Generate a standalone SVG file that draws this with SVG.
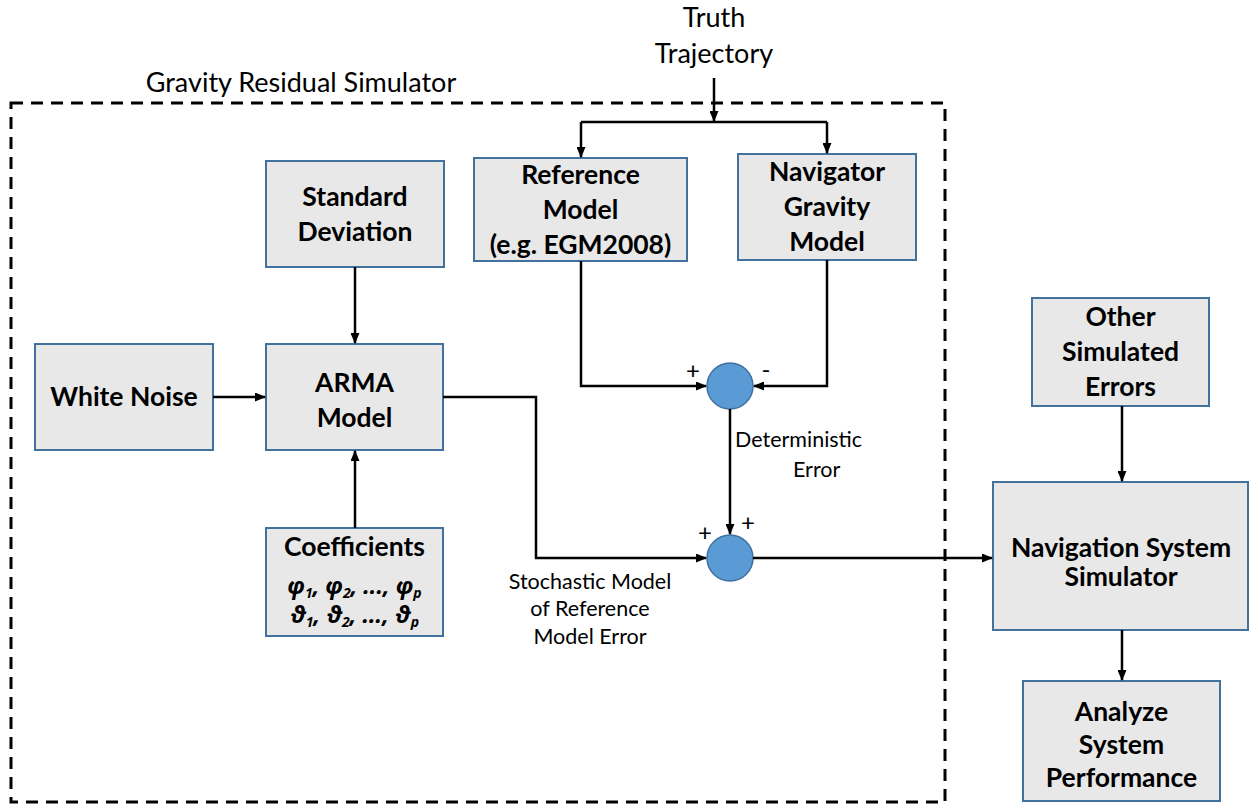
<svg xmlns="http://www.w3.org/2000/svg" width="1249" height="806" viewBox="0 0 1249 806">
  <style>
    .box { fill: #E8E8E8; stroke: #41719C; stroke-width: 2; }
    .sum { fill: #5B9BD5; stroke: #41719C; stroke-width: 1.5; }
    .wire { fill: none; stroke: #000; stroke-width: 2.5; }
    .arrow { fill: none; stroke: #000; stroke-width: 2.5; marker-end: url(#head); }
    .frame { fill: none; stroke: #000; stroke-width: 3; stroke-dasharray: 12 8; }
    .bold { font-family: Lato, "Noto Sans", "DejaVu Sans", sans-serif; font-weight: bold; font-size: 26.5px; fill: #000; text-anchor: middle; }
    .greek { font-family: "Noto Sans", "DejaVu Sans", sans-serif; font-weight: bold; font-style: italic; font-size: 23px; fill: #000; text-anchor: middle; }
    .label { font-family: Lato, "Noto Sans", sans-serif; font-size: 27px; fill: #000; }
    .small { font-family: Lato, "Noto Sans", sans-serif; font-size: 21.5px; fill: #000; }
    .sign { font-family: Lato, "Noto Sans", sans-serif; font-size: 24px; fill: #000; text-anchor: middle; }
  </style>
  <defs>
    <marker id="head" markerWidth="11" markerHeight="9" refX="10" refY="4.5" orient="auto" markerUnits="userSpaceOnUse">
      <path d="M0,0 L11,4.5 L0,9 Z" fill="#000"/>
    </marker>
  </defs>

  <!-- simulator boundary -->
  <g id="simulator-frame">
    <rect class="frame" x="11" y="103" width="934" height="699"/>
    <text class="label" x="301" y="92" text-anchor="middle">Gravity Residual Simulator</text>
  </g>

  <!-- trajectory source label -->
  <g id="truth-trajectory">
    <text class="label" x="714" y="27" text-anchor="middle">Truth</text>
    <text class="label" x="714" y="63" text-anchor="middle">Trajectory</text>
  </g>

  <!-- blocks -->
  <g id="white-noise">
    <rect class="box" x="35" y="344" width="178" height="106"/>
    <text class="bold" x="124" y="406">White Noise</text>
  </g>
  <g id="arma-model">
    <rect class="box" x="266" y="344" width="177" height="106"/>
    <text class="bold" x="354.5" y="392">ARMA</text>
    <text class="bold" x="354.5" y="427">Model</text>
  </g>
  <g id="standard-deviation">
    <rect class="box" x="266" y="161" width="178" height="106"/>
    <text class="bold" x="355" y="206">Standard</text>
    <text class="bold" x="355" y="241">Deviation</text>
  </g>
  <g id="coefficients">
    <rect class="box" x="266" y="528" width="177" height="108"/>
    <text class="bold" x="354.5" y="556">Coefficients</text>
    <text class="greek" x="354.5" y="594">φ<tspan font-size="14" baseline-shift="-4">1</tspan>, φ<tspan font-size="14" baseline-shift="-4">2</tspan>, ..., φ<tspan font-size="14" baseline-shift="-4">p</tspan></text>
    <text class="greek" x="354.5" y="623">ϑ<tspan font-size="14" baseline-shift="-4">1</tspan>, ϑ<tspan font-size="14" baseline-shift="-4">2</tspan>, ..., ϑ<tspan font-size="14" baseline-shift="-4">p</tspan></text>
  </g>
  <g id="reference-model">
    <rect class="box" x="474" y="158" width="213" height="103"/>
    <text class="bold" x="580.5" y="184">Reference</text>
    <text class="bold" x="580.5" y="219">Model</text>
    <text class="bold" x="580.5" y="254">(e.g. EGM2008)</text>
  </g>
  <g id="navigator-gravity-model">
    <rect class="box" x="738" y="154" width="178" height="106"/>
    <text class="bold" x="827" y="181">Navigator</text>
    <text class="bold" x="827" y="216">Gravity</text>
    <text class="bold" x="827" y="251">Model</text>
  </g>
  <g id="other-simulated-errors">
    <rect class="box" x="1032" y="298" width="177" height="108"/>
    <text class="bold" x="1120.5" y="326">Other</text>
    <text class="bold" x="1120.5" y="361">Simulated</text>
    <text class="bold" x="1120.5" y="396">Errors</text>
  </g>
  <g id="navigation-system-simulator">
    <rect class="box" x="993" y="482" width="255" height="148"/>
    <text class="bold" x="1121" y="557">Navigation System</text>
    <text class="bold" x="1121" y="586">Simulator</text>
  </g>
  <g id="analyze-system-performance">
    <rect class="box" x="1023" y="681" width="197" height="120"/>
    <text class="bold" x="1121.5" y="721">Analyze</text>
    <text class="bold" x="1121.5" y="754">System</text>
    <text class="bold" x="1121.5" y="787">Performance</text>
  </g>

  <!-- summing junctions -->
  <g id="sum-deterministic">
    <circle class="sum" cx="730" cy="386" r="23"/>
  </g>
  <g id="sum-total">
    <circle class="sum" cx="730" cy="558" r="23"/>
  </g>

  <!-- connectors -->
  <g id="connectors">
    <path class="arrow" d="M714,78 V121"/>
    <path class="wire" d="M581,122 H827"/>
    <path class="arrow" d="M581,122 V157"/>
    <path class="arrow" d="M827,122 V153"/>
    <path class="arrow" d="M355,267 V343"/>
    <path class="arrow" d="M213,397 H265"/>
    <path class="arrow" d="M355,528 V451"/>
    <path class="arrow" d="M581,261 V386 H706"/>
    <path class="arrow" d="M827,260 V386 H754"/>
    <path class="arrow" d="M730,409 V534"/>
    <path class="arrow" d="M443,397 H536 V558 H706"/>
    <path class="arrow" d="M753,558 H992"/>
    <path class="arrow" d="M1122,406 V481"/>
    <path class="arrow" d="M1122,630 V680"/>
  </g>

  <!-- connector labels and signs -->
  <g id="connector-labels">
    <text class="sign" x="693" y="379">+</text>
    <text class="sign" x="766" y="378">-</text>
    <text class="sign" x="748" y="531">+</text>
    <text class="sign" x="705" y="541">+</text>
    <text class="small" x="735" y="447">Deterministic</text>
    <text class="small" x="793" y="477">Error</text>
    <text class="small" x="590" y="589" text-anchor="middle">Stochastic Model</text>
    <text class="small" x="590" y="616" text-anchor="middle">of Reference</text>
    <text class="small" x="590" y="644" text-anchor="middle">Model Error</text>
  </g>
</svg>
